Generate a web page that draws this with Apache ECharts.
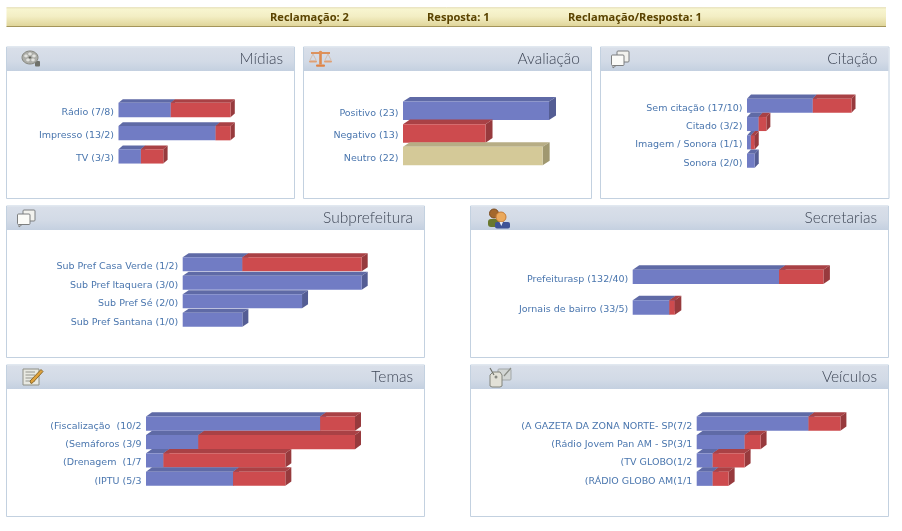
<!DOCTYPE html>
<html><head><meta charset="utf-8">
<style>html,body{margin:0;padding:0;background:#fff}#c{width:902px;height:531px}</style>
<script src="https://cdn.jsdelivr.net/npm/echarts@6/dist/echarts.min.js"></script>
</head><body><div id="c"></div>
<script>
// ---- data ----
const summaryLabels = ['Reclamação: 2', 'Resposta: 1', 'Reclamação/Resposta: 1'];

const midiasTitle = 'Mídias';
const midiasCats = ['Rádio (7/8)', 'Impresso (13/2)', 'TV (3/3)'];
const midiasBlue = [7, 13, 3];
const midiasRed = [8, 2, 3];

const avaliacaoTitle = 'Avaliação';
const avaliacaoCats = ['Positivo (23)', 'Negativo (13)', 'Neutro (22)'];
const avaliacaoBlue = [23, 0, 0];
const avaliacaoRed = [0, 13, 0];
const avaliacaoTan = [0, 0, 22];

const citacaoTitle = 'Citação';
const citacaoCats = ['Sem citação (17/10)', 'Citado (3/2)', 'Imagem / Sonora (1/1)', 'Sonora (2/0)'];
const citacaoBlue = [17, 3, 1, 2];
const citacaoRed = [10, 2, 1, 0];

const subprefTitle = 'Subprefeitura';
const subprefCats = ['Sub Pref Casa Verde (1/2)', 'Sub Pref Itaquera (3/0)', 'Sub Pref Sé (2/0)', 'Sub Pref Santana (1/0)'];
const subprefBlue = [1, 3, 2, 1];
const subprefRed = [2, 0, 0, 0];

const secretTitle = 'Secretarias';
const secretCats = ['Prefeiturasp (132/40)', 'Jornais de bairro (33/5)'];
const secretBlue = [132, 33];
const secretRed = [40, 5];

const temasTitle = 'Temas';
const temasCats = ['(Fiscalização  (10/2', '(Semáforos (3/9', '(Drenagem  (1/7', '(IPTU (5/3'];
const temasBlue = [10, 3, 1, 5];
const temasRed = [2, 9, 7, 3];

const veiculosTitle = 'Veículos';
const veiculosCats = ['(A GAZETA DA ZONA NORTE- SP(7/2', '(Rádio Jovem Pan AM - SP(3/1', '(TV GLOBO(1/2', '(RÁDIO GLOBO AM(1/1'];
const veiculosBlue = [7, 3, 1, 1];
const veiculosRed = [2, 1, 2, 1];

// ---- layout / style ----
const FACE = {
  blue: {front:'#717cc4', top:'#5f6aa6', side:'#545d94'},
  red:  {front:'#cd4b4e', top:'#a94145', side:'#973a3d'},
  tan:  {front:'#d4c998', top:'#b7ad85', side:'#a09870'}
};
const LABEL_FONT = '"DejaVu Sans"';
const LABEL_DROP = 2.5; // labels sit a little below the centre of their bar
const panels = [
 {title:midiasTitle, cats:midiasCats, vals:[['blue',midiasBlue],['red',midiasRed]], max:15,
  box:[6.5,47,288,151.5], head:24, bx:118.5, bw:112, c0:110, step:23.2, h:14.3, dx:4.3, dy:3.7, icon:'reel', ix:22, iy:51},
 {title:avaliacaoTitle, cats:avaliacaoCats, vals:[['blue',avaliacaoBlue],['red',avaliacaoRed],['tan',avaliacaoTan]], max:23,
  box:[303.5,47,288,151.5], head:24, bx:403, bw:146, c0:110.8, step:22.6, h:18.5, dx:7, dy:4.6, icon:'scale', ix:309, iy:50},
 {title:citacaoTitle, cats:citacaoCats, vals:[['blue',citacaoBlue],['red',citacaoRed]], max:27,
  box:[600.5,47,288.5,151.5], head:24, bx:747, bw:104.5, c0:105.7, step:18.35, h:14, dx:4, dy:4.3, icon:'chat', ix:611, iy:50},
 {title:subprefTitle, cats:subprefCats, vals:[['blue',subprefBlue],['red',subprefRed]], max:3,
  box:[6.5,206,418,151.5], head:24, bx:182.7, bw:179, c0:264.3, step:18.5, h:14, dx:6, dy:4, icon:'chat', ix:17, iy:209},
 {title:secretTitle, cats:secretCats, vals:[['blue',secretBlue],['red',secretRed]], max:172,
  box:[470.5,206,418,151.5], head:24, bx:632.7, bw:190.7, c0:276.8, step:30.7, h:14.3, dx:6.5, dy:4.5, icon:'people', ix:487, iy:207},
 {title:temasTitle, cats:temasCats, vals:[['blue',temasBlue],['red',temasRed]], max:12,
  box:[6.5,365,418,151.5], head:24, bx:146, bw:209, c0:423.7, step:18.35, h:14.2, dx:6, dy:4.3, icon:'note', ix:23, iy:369},
 {title:veiculosTitle, cats:veiculosCats, vals:[['blue',veiculosBlue],['red',veiculosRed]], max:9,
  box:[470.5,365,418,151.5], head:24, bx:696.7, bw:143.7, c0:423.7, step:18.35, h:14.2, dx:6, dy:4.3, icon:'tags', ix:489, iy:367}
];

function iconShapes(kind, x, y){
  const g = [];
  const circ = (cx,cy,r,fill,stroke)=>g.push({type:'circle',shape:{cx:x+cx,cy:y+cy,r},style:{fill,stroke:stroke||null,lineWidth:1},z:1});
  const ell = (cx,cy,rx,ry,fill,stroke)=>g.push({type:'ellipse',shape:{cx:x+cx,cy:y+cy,rx,ry},style:{fill,stroke:stroke||null,lineWidth:1},z:1});
  const rect = (a,b,w,h,fill,stroke,rad)=>g.push({type:'rect',shape:{x:x+a,y:y+b,width:w,height:h,r:rad||0},style:{fill,stroke:stroke||null,lineWidth:1},z:1});
  const poly = (pts,fill,stroke)=>g.push({type:'polygon',shape:{points:pts.map(p=>[x+p[0],y+p[1]])},style:{fill,stroke:stroke||null,lineWidth:1},z:1});
  const line = (a,b,c,d,stroke,w)=>g.push({type:'line',shape:{x1:x+a,y1:y+b,x2:x+c,y2:y+d},style:{stroke,lineWidth:w||1},z:1});
  if(kind==='reel'){
    rect(13,10,5,5.5,'#6f716a',null,1);
    ell(8,6.5,8,6.5,'#adaea9','#85867e');
    [[4,5],[8,3],[12,5],[6,9],[11,9]].forEach(p=>ell(p[0],p[1],1.8,1.4,'#e2e3df'));
    ell(8,6.5,1.4,1.1,'#66675f');
  } else if(kind==='scale'){
    line(2,3,21,3,'#dd8a4e',1.8);
    line(11.5,2,11.5,14.5,'#dd8a4e',2.6);
    circ(11.5,2.5,1.8,'#e39155');
    rect(7,14.5,9,2.2,'#df8344',null,1);
    line(4,4,1,10,'#cfb09a',0.7); line(4,4,7,10,'#cfb09a',0.7);
    line(19,4,16,10,'#cfb09a',0.7); line(19,4,22,10,'#cfb09a',0.7);
    rect(0,10.5,8,2,'#dfa074',null,1); rect(15,10.5,8,2,'#dfa074',null,1);
  } else if(kind==='chat'){
    rect(6,1,12,11,'#f2f2ee','#7d7f80',1);
    rect(0.5,5,12.5,10.5,'#fbfbf8','#7d7f80',1);
    poly([[2,15.5],[2,18],[5,15.5]],'#fbfbf8','#7d7f80');
  } else if(kind==='people'){
    circ(7,6.5,4.5,'#a4682c','#7b4d22');
    rect(1,12,11,8,'#69782e',null,3);
    rect(8,15,15,6.5,'#3f5396',null,2);
    circ(14,10,5,'#eba95c','#c67c36');
    poly([[12.5,15],[16,15],[14.3,19]],'#e8ecf6');
  } else if(kind==='note'){
    rect(0,0,16,16,'#e8e9e2','#8f9086');
    [3,6,9,12].forEach(v=>line(2.5,v,12,v,'#94958e',1));
    poly([[7,12],[8,14.5],[10,13.5],[20,2.5],[18,0.5]],'#dfa23c','#8c6a2a');
  } else if(kind==='tags'){
    rect(9,2,13,11,'#d2d6d4','#a2a7a8',1);
    poly([[1,8],[4,5],[11,5],[13,8],[13,19],[11,20],[3,20],[1,19]],'#e2e1d7','#82847c');
    line(1,1,5,8,'#70726a',1.2);
    line(22,1,15,9,'#8a8d86',1.2);
    circ(7,10,1.5,'#888a82');
  }
  return g;
}

const graphics = [];
// summary strip
graphics.push({type:'rect',shape:{x:6.5,y:8,width:879.5,height:18.5},
  style:{fill:new echarts.graphic.LinearGradient(0,0,0,1,[{offset:0,color:'#f8f6d2'},{offset:0.45,color:'#f3eec4'},{offset:1,color:'#dfd498'}])},z:0});
graphics.push({type:'line',shape:{x1:6.5,y1:7.8,x2:886,y2:7.8},style:{stroke:'#e4dcae',lineWidth:1},z:0});
graphics.push({type:'line',shape:{x1:6.5,y1:26.5,x2:886,y2:26.5},style:{stroke:'#a4955a',lineWidth:1},z:0});
const summaryX = [270, 427, 568];
summaryLabels.forEach((t,i)=>graphics.push({type:'text',x:summaryX[i],y:17.5,
  style:{text:t,fill:'#5a4300',font:'bold 11.1px "Open Sans"',verticalAlign:'middle',textAlign:'left'},z:3}));

const grids=[], xAxes=[], yAxes=[], series=[];
panels.forEach((p,i)=>{
  const [x,y,w,h]=p.box;
  graphics.push({type:'rect',shape:{x,y,width:w,height:h},style:{fill:'#fff',stroke:'#c3d1e0',lineWidth:1},z:0});
  graphics.push({type:'rect',shape:{x:x+0.5,y:y+0.5,width:w-1,height:p.head-0.5},
    style:{fill:new echarts.graphic.LinearGradient(0,0,0,1,[{offset:0,color:'#d9dfe9'},{offset:0.6,color:'#d2dae6'},{offset:1,color:'#c4d0e0'}])},z:0});
  graphics.push({type:'text',x:x+w-11.5,y:y+12,style:{text:p.title,fill:'#3e4656',font:'300 15.5px Lato',textAlign:'right',verticalAlign:'middle',
    textShadowColor:'#fff',textShadowBlur:0,textShadowOffsetX:1,textShadowOffsetY:1},z:3});
  iconShapes(p.icon,p.ix,p.iy).forEach(e=>graphics.push(e));

  const n=p.cats.length;
  grids.push({left:p.bx,width:p.bw,top:p.c0-p.step/2+LABEL_DROP,height:p.step*n,containLabel:false});
  xAxes.push({gridIndex:i,type:'value',min:0,max:p.max,show:false});
  yAxes.push({gridIndex:i,type:'category',inverse:true,data:p.cats,axisLine:{show:false},axisTick:{show:false},splitLine:{show:false},
    axisLabel:{color:'#4a76ae',fontFamily:LABEL_FONT,fontSize:9.5,margin:4.5,interval:0}});
  const rows=[];
  p.cats.forEach((c,r)=>{
    let acc=0;
    p.vals.forEach(([col,arr],k)=>{ if(arr[r]>0){ rows.push([r,acc,acc+arr[r],k]); acc+=arr[r]; } });
  });
  series.push({type:'custom',name:p.title,coordinateSystem:'cartesian2d',xAxisIndex:i,yAxisIndex:i,clip:false,silent:true,
    encode:{x:[1,2],y:0},data:rows,
    renderItem:(params,api)=>{
      const a=api.coord([api.value(1),api.value(0)]), b=api.coord([api.value(2),api.value(0)]);
      const f=FACE[p.vals[api.value(3)][0]];
      const t=a[1]-LABEL_DROP-p.h/2, bm=t+p.h, x0=a[0], x1=b[0], dx=p.dx, dy=p.dy;
      return {type:'group',children:[
        {type:'polygon',shape:{points:[[x0,t],[x0+dx,t-dy],[x1+dx,t-dy],[x1,t]]},style:{fill:f.top}},
        {type:'polygon',shape:{points:[[x1,t],[x1+dx,t-dy],[x1+dx,bm-dy],[x1,bm]]},style:{fill:f.side}},
        {type:'rect',shape:{x:x0,y:t,width:x1-x0,height:p.h},style:{fill:f.front}}
      ]};
    }});
});

const chart=echarts.init(document.getElementById('c'),null,{renderer:'canvas'});
chart.setOption({animation:false,backgroundColor:'#fff',grid:grids,xAxis:xAxes,yAxis:yAxes,series,graphic:{elements:graphics}});
</script></body></html>
